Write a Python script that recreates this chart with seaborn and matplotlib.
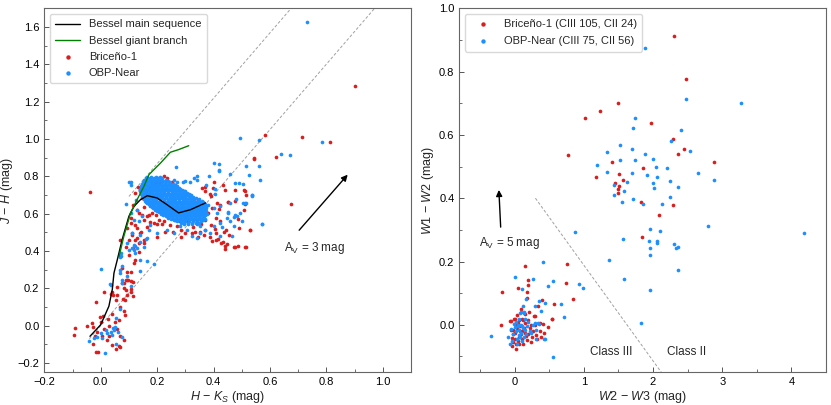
import matplotlib
matplotlib.use("Agg")
import matplotlib.pyplot as plt
from matplotlib.ticker import MultipleLocator
import seaborn as sns
import pandas as pd

RED = "#d81e1e"
BLUE = "#1e8fff"

# ---- left panel: 2MASS colour-colour ----
ms_hk = [-0.038, 0.0, 0.029, 0.041, 0.047, 0.059, 0.076, 0.100, 0.118, 0.141, 0.165, 0.200, 0.235, 0.276, 0.318, 0.371]
ms_jh = [-0.057, 0.005, 0.104, 0.193, 0.282, 0.354, 0.461, 0.586, 0.639, 0.675, 0.696, 0.684, 0.648, 0.604, 0.621, 0.657]
giant_hk = [0.065, 0.082, 0.106, 0.129, 0.153, 0.171, 0.212, 0.247, 0.276, 0.312]
giant_jh = [0.371, 0.479, 0.604, 0.675, 0.746, 0.809, 0.871, 0.929, 0.943, 0.964]

bri_jhk = [
    (0.900, 1.286), (0.715, 1.011), (0.582, 1.020), (0.812, 0.982), (0.620, 0.902), (0.544, 0.895),
    (0.674, 0.654), (0.529, 0.511), (0.514, 0.421), (0.485, 0.429), (0.442, 0.413), (-0.038, 0.714),
    (0.401, 0.772), (0.434, 0.753), (0.371, 0.745), (0.442, 0.728), (0.477, 0.729), (0.507, 0.724),
    (0.515, 0.701), (0.476, 0.670), (0.453, 0.665), (0.513, 0.652), (0.507, 0.622), (0.413, 0.656),
    (0.419, 0.624), (0.487, 0.570), (0.489, 0.522), (0.455, 0.486), (0.437, 0.499), (0.408, 0.459),
    (0.425, 0.442), (0.446, 0.438), (0.475, 0.420), (0.360, 0.737), (0.542, 0.897),
    (0.223, 0.799), (0.211, 0.764), (0.252, 0.772), (0.191, 0.764), (0.131, 0.745), (0.141, 0.724),
    (0.123, 0.710), (0.147, 0.683), (0.115, 0.647), (0.129, 0.620), (0.153, 0.638), (0.147, 0.594),
    (0.165, 0.585), (0.182, 0.603), (0.174, 0.553), (0.200, 0.545), (0.223, 0.558), (0.245, 0.540),
    (0.270, 0.535), (0.284, 0.513), (0.305, 0.558), (0.328, 0.531), (0.334, 0.504), (0.323, 0.495),
    (0.352, 0.504), (0.370, 0.513), (0.346, 0.474), (0.387, 0.477), (0.408, 0.495), (0.416, 0.463),
    (0.434, 0.450), (0.440, 0.424), (0.472, 0.420), (0.511, 0.420), (0.528, 0.513), (0.452, 0.665),
    (0.511, 0.722), (0.399, 0.740), (0.387, 0.706), (0.370, 0.719), (0.391, 0.692), (0.393, 0.629),
    (0.423, 0.647), (0.381, 0.603), (0.408, 0.576), (0.423, 0.558), (0.370, 0.567), (0.111, 0.486),
    (0.123, 0.459), (0.141, 0.495), (0.094, 0.522), (0.106, 0.549), (0.070, 0.459), (0.153, 0.442),
    (0.200, 0.474), (0.229, 0.504), (0.256, 0.499), (0.299, 0.495), (0.284, 0.477), (0.223, 0.603),
    (0.246, 0.638), (0.282, 0.620), (0.317, 0.638), (0.344, 0.674), (0.317, 0.701), (0.293, 0.719),
    (0.188, 0.665), (0.176, 0.692), (0.162, 0.719), (0.111, 0.495), (0.129, 0.522), (0.144, 0.504),
    (0.164, 0.531), (0.100, 0.459), (0.137, 0.441), (0.152, 0.459), (0.114, 0.415), (0.135, 0.397),
    (0.121, 0.352), (0.118, 0.334), (0.082, 0.227), (0.088, 0.245), (0.097, 0.245), (0.115, 0.236),
    (0.082, 0.200), (0.106, 0.195), (0.059, 0.164), (0.053, 0.137), (0.080, 0.141), (0.092, 0.164),
    (0.074, 0.308), (0.188, 0.549), (0.205, 0.567), (0.217, 0.545), (0.196, 0.594), (0.152, 0.567),
    (0.170, 0.594), (0.135, 0.603), (0.123, 0.540), (0.109, 0.576), (0.240, 0.580), (0.262, 0.565),
    (0.300, 0.585), (0.335, 0.570), (0.355, 0.545), (0.280, 0.560), (0.250, 0.610), (0.215, 0.625),
    (0.185, 0.640), (0.165, 0.660), (0.155, 0.700), (0.170, 0.745), (0.235, 0.790), (0.262, 0.755),
    (0.360, 0.600), (0.390, 0.540), (0.365, 0.485), (0.405, 0.520), (0.445, 0.510), (0.395, 0.455),
    (-0.092, -0.011), (-0.094, -0.052), (-0.049, -0.002), (-0.032, 0.013), (-0.029, -0.005),
    (-0.014, -0.032), (-0.018, 0.125), (0.012, 0.182), (0.035, 0.170), (0.045, 0.164), (-0.002, 0.048),
    (0.000, 0.021), (0.009, 0.052), (0.026, 0.034), (0.070, 0.099), (0.082, 0.079), (0.085, 0.058),
    (0.088, 0.191), (0.094, 0.245), (0.109, 0.241), (0.106, 0.182), (0.076, 0.227), (0.059, 0.209),
    (0.115, 0.159), (0.085, 0.138), (-0.029, -0.098), (-0.018, -0.139), (-0.008, -0.139),
    (0.023, -0.077), (0.041, -0.103), (0.053, -0.127), (0.068, -0.113), (0.059, -0.019),
    (0.070, -0.053), (0.082, -0.077), (0.029, -0.053), (0.012, -0.019), (0.006, -0.055),
    (0.041, 0.182), (0.094, 0.290), (0.108, 0.290), (0.041, 0.060), (0.050, 0.020), (0.030, 0.000),
    (0.065, 0.030), (0.065, -0.111), (-0.020, -0.057), (0.100, 0.380), (0.090, 0.420), (0.130, 0.470),
]

obp_jhk = [
    (0.732, 1.627), (0.495, 1.005), (0.560, 0.992), (0.786, 0.985), (0.640, 0.921), (0.670, 0.914),
    (0.401, 0.869), (0.421, 0.865), (0.561, 0.855), (0.526, 0.806), (0.419, 0.828), (0.460, 0.810),
    (0.566, 0.781), (0.477, 0.763), (0.489, 0.763), (0.505, 0.760), (0.536, 0.697), (0.515, 0.656),
    (0.506, 0.656), (0.570, 0.545), (0.405, 0.733), (0.452, 0.610), (0.473, 0.581), (0.502, 0.561),
    (0.431, 0.531), (0.465, 0.481), (0.423, 0.481), (0.446, 0.574), (0.404, 0.706), (0.481, 0.678),
    (0.268, 0.849), (0.514, 0.853), (0.102, 0.770), (0.109, 0.753), (0.090, 0.654), (0.270, 0.769),
    (0.291, 0.769), (0.317, 0.769), (0.343, 0.799), (0.343, 0.781), (0.384, 0.799), (0.375, 0.754),
    (0.537, 0.701), (0.475, 0.594), (0.300, 0.773), (0.259, 0.782), (0.329, 0.791), (0.108, 0.768),
    (0.106, 0.604), (0.118, 0.568), (0.112, 0.496), (0.141, 0.487), (0.165, 0.470), (0.129, 0.416),
    (0.118, 0.404), (0.153, 0.421), (0.141, 0.354), (0.165, 0.345), (0.190, 0.331), (0.118, 0.434),
    (0.094, 0.443), (0.071, 0.371), (0.076, 0.318), (0.094, 0.264), (0.106, 0.211), (0.035, 0.220),
    (0.000, 0.304), (0.073, 0.389), (0.353, 0.496), (0.371, 0.514), (0.388, 0.496), (0.400, 0.532),
    (0.424, 0.550), (0.459, 0.559), (0.471, 0.532), (0.482, 0.586), (0.494, 0.604), (0.453, 0.604),
    (0.412, 0.604), (0.400, 0.630), (0.424, 0.639), (0.382, 0.648), (0.459, 0.657), (0.512, 0.657),
    (0.571, 0.546), (0.535, 0.702), (0.124, 0.675), (0.129, 0.621), (0.147, 0.586), (0.135, 0.559),
    (0.171, 0.514), (0.200, 0.496), (0.176, 0.541), (0.235, 0.514), (0.259, 0.496), (0.324, 0.479),
    (0.341, 0.470), (0.306, 0.514), (0.282, 0.532), (0.353, 0.532), (0.418, 0.832),
    (-0.041, -0.080), (-0.024, -0.068), (-0.012, -0.059), (0.006, -0.068), (0.015, -0.148),
    (0.035, -0.032), (0.047, -0.023), (0.050, -0.005), (0.000, -0.041), (0.023, -0.041),
    (0.076, -0.062), (0.053, -0.098), (0.033, 0.221), (0.068, 0.281), (0.074, 0.227), (0.070, 0.089),
    (0.053, 0.043), (0.141, 0.293), (0.040, -0.050), (0.060, -0.035), (0.045, -0.015), (0.020, -0.025),
    (0.070, 0.299), (0.076, 0.245), (0.100, 0.406), (0.111, 0.415), (0.123, 0.424), (0.123, 0.388),
    (0.141, 0.450), (0.161, 0.463), (0.067, 0.367),
]

# dense core of OBP-Near: rows of (J-H, [H-Ks ...])
obp_core = [
    (0.795, [0.165, 0.180, 0.195, 0.210]),
    (0.789, [0.160, 0.173, 0.188, 0.203, 0.218]),
    (0.782, [0.155, 0.170, 0.185, 0.200, 0.215, 0.230]),
    (0.775, [0.152, 0.166, 0.180, 0.194, 0.208, 0.222, 0.238]),
    (0.768, [0.150, 0.163, 0.177, 0.190, 0.204, 0.218, 0.232, 0.246]),
    (0.761, [0.147, 0.160, 0.174, 0.187, 0.201, 0.214, 0.228, 0.242, 0.256]),
    (0.754, [0.145, 0.157, 0.170, 0.184, 0.197, 0.211, 0.225, 0.238, 0.252, 0.265]),
    (0.747, [0.143, 0.150, 0.163, 0.177, 0.190, 0.204, 0.218, 0.231, 0.245, 0.258, 0.270]),
    (0.740, [0.142, 0.155, 0.168, 0.181, 0.195, 0.208, 0.221, 0.235, 0.248, 0.262, 0.276]),
    (0.733, [0.141, 0.148, 0.161, 0.174, 0.188, 0.201, 0.214, 0.228, 0.241, 0.255, 0.268, 0.281]),
    (0.726, [0.140, 0.153, 0.166, 0.180, 0.193, 0.206, 0.219, 0.233, 0.246, 0.260, 0.273, 0.287]),
    (0.719, [0.141, 0.147, 0.160, 0.173, 0.186, 0.200, 0.213, 0.226, 0.240, 0.253, 0.267, 0.280, 0.294, 0.300]),
    (0.712, [0.142, 0.156, 0.170, 0.183, 0.197, 0.210, 0.224, 0.237, 0.251, 0.264, 0.278, 0.291, 0.305]),
    (0.705, [0.143, 0.150, 0.164, 0.177, 0.191, 0.204, 0.218, 0.231, 0.245, 0.258, 0.272, 0.285, 0.299, 0.312]),
    (0.698, [0.145, 0.158, 0.172, 0.185, 0.199, 0.212, 0.226, 0.239, 0.253, 0.266, 0.280, 0.293, 0.307, 0.320]),
    (0.691, [0.147, 0.152, 0.165, 0.179, 0.192, 0.206, 0.219, 0.233, 0.246, 0.260, 0.273, 0.287, 0.300, 0.314, 0.328]),
    (0.684, [0.150, 0.163, 0.177, 0.190, 0.204, 0.217, 0.231, 0.244, 0.258, 0.271, 0.285, 0.298, 0.312, 0.325, 0.339]),
    (0.677, [0.153, 0.157, 0.170, 0.184, 0.197, 0.211, 0.224, 0.238, 0.251, 0.265, 0.278, 0.292, 0.305, 0.319, 0.332, 0.348]),
    (0.670, [0.156, 0.169, 0.183, 0.196, 0.210, 0.223, 0.237, 0.250, 0.264, 0.277, 0.291, 0.304, 0.318, 0.331, 0.345, 0.358]),
    (0.663, [0.160, 0.163, 0.176, 0.190, 0.203, 0.217, 0.230, 0.244, 0.257, 0.271, 0.284, 0.298, 0.311, 0.325, 0.338, 0.352, 0.362]),
    (0.656, [0.165, 0.178, 0.192, 0.205, 0.219, 0.232, 0.246, 0.259, 0.273, 0.286, 0.300, 0.313, 0.327, 0.340, 0.354, 0.367]),
    (0.649, [0.170, 0.172, 0.185, 0.199, 0.212, 0.226, 0.239, 0.253, 0.266, 0.280, 0.293, 0.307, 0.320, 0.334, 0.347, 0.361, 0.371]),
    (0.642, [0.175, 0.188, 0.202, 0.215, 0.229, 0.242, 0.256, 0.269, 0.283, 0.296, 0.310, 0.323, 0.337, 0.350, 0.364, 0.375]),
    (0.635, [0.181, 0.194, 0.208, 0.221, 0.235, 0.248, 0.262, 0.275, 0.289, 0.302, 0.316, 0.329, 0.343, 0.356, 0.369]),
    (0.628, [0.187, 0.200, 0.214, 0.227, 0.241, 0.254, 0.268, 0.281, 0.295, 0.308, 0.322, 0.335, 0.349, 0.362, 0.374]),
    (0.621, [0.193, 0.207, 0.220, 0.234, 0.247, 0.261, 0.274, 0.288, 0.301, 0.315, 0.328, 0.342, 0.355, 0.368]),
    (0.614, [0.200, 0.214, 0.227, 0.241, 0.254, 0.268, 0.281, 0.295, 0.308, 0.322, 0.335, 0.349, 0.362, 0.375]),
    (0.607, [0.207, 0.221, 0.234, 0.248, 0.261, 0.275, 0.288, 0.302, 0.315, 0.329, 0.342, 0.356, 0.369]),
    (0.600, [0.214, 0.228, 0.241, 0.255, 0.268, 0.282, 0.295, 0.309, 0.322, 0.336, 0.349, 0.363, 0.376]),
    (0.593, [0.222, 0.236, 0.249, 0.263, 0.276, 0.290, 0.303, 0.317, 0.330, 0.344, 0.357, 0.370]),
    (0.586, [0.230, 0.243, 0.257, 0.270, 0.284, 0.297, 0.311, 0.324, 0.338, 0.351, 0.365]),
    (0.579, [0.240, 0.253, 0.267, 0.280, 0.294, 0.307, 0.321, 0.334, 0.348, 0.361]),
    (0.572, [0.250, 0.263, 0.277, 0.290, 0.304, 0.317, 0.331, 0.344, 0.358, 0.370]),
    (0.565, [0.260, 0.273, 0.287, 0.300, 0.314, 0.328, 0.342, 0.356, 0.364]),
    (0.558, [0.270, 0.284, 0.298, 0.312, 0.326, 0.340, 0.354]),
    (0.551, [0.283, 0.297, 0.311, 0.325, 0.339, 0.350]),
    (0.544, [0.295, 0.310, 0.325, 0.340]),
]

# reddening vectors drawn as dashed lines (H-Ks, J-H)
redd_upper = ([0.100, 0.675], [0.692, 1.700])
redd_lower = ([-0.040, 0.971], [-0.070, 1.700])

# ---- right panel: WISE colour-colour ----
bri_wise = [
    (2.308, 0.913), (2.476, 0.778), (1.495, 0.701), (1.231, 0.677), (1.019, 0.655), (1.971, 0.639),
    (0.769, 0.536), (2.284, 0.586), (2.452, 0.554), (2.365, 0.541), (2.875, 0.515), (1.404, 0.513),
    (1.851, 0.497), (1.178, 0.468), (1.505, 0.478), (1.563, 0.458), (1.457, 0.448), (1.505, 0.440),
    (1.495, 0.429), (1.500, 0.416), (1.832, 0.387), (2.293, 0.380), (2.082, 0.346), (1.837, 0.276),
    (0.755, 0.191), (0.144, 0.187), (-0.183, 0.103), (0.192, 0.143), (0.192, 0.125), (0.048, 0.117),
    (0.183, 0.103), (0.173, 0.084), (0.841, 0.082), (0.745, 0.133), (0.572, 0.065), (0.543, 0.019),
    (0.399, 0.080), (-0.202, -0.002), (-0.058, 0.013), (0.000, 0.019), (0.144, 0.034), (0.288, 0.029),
    (0.365, 0.007), (0.481, -0.008), (0.418, -0.026), (0.240, -0.053), (0.024, -0.076), (-0.034, -0.068),
    (-0.070, 0.013), (-0.010, 0.018), (0.048, 0.007), (0.120, 0.016), (0.190, 0.014), (0.278, 0.029),
    (0.410, 0.003), (0.538, 0.019), (-0.048, -0.016), (0.000, -0.026), (-0.038, -0.042),
    (0.024, -0.061), (-0.024, -0.053), (0.072, -0.021), (0.144, -0.026), (0.216, -0.011),
    (0.250, -0.037), (0.313, -0.032), (0.360, -0.021), (0.183, -0.047), (0.385, -0.037),
    (0.030, -0.010), (0.060, -0.040), (0.090, -0.030), (0.110, -0.045), (0.080, -0.005),
    (-0.020, -0.030), (0.050, -0.050), (0.130, -0.010), (0.170, -0.035), (0.100, -0.020),
    (0.020, 0.000), (0.060, 0.015), (-0.030, -0.015), (0.150, 0.005), (0.260, -0.020), (0.300, 0.000),
    (0.330, -0.045), (0.200, -0.030), (0.070, -0.060), (0.110, 0.020), (0.230, 0.000), (0.120, -0.060),
    (0.000, -0.045), (0.040, 0.030), (0.210, 0.040), (0.090, 0.050), (0.340, 0.060),
]

obp_wise = [
    (3.269, 0.702), (2.481, 0.712), (1.745, 0.655), (1.707, 0.622), (2.409, 0.614), (2.260, 0.580),
    (1.529, 0.567), (1.332, 0.545), (1.702, 0.554), (2.529, 0.548), (1.880, 0.539), (1.995, 0.523),
    (1.529, 0.520), (1.740, 0.521), (1.183, 0.506), (2.043, 0.500), (1.337, 0.482), (1.692, 0.480),
    (2.654, 0.479), (1.909, 0.474), (2.202, 0.494), (2.058, 0.468), (1.442, 0.442), (1.625, 0.451),
    (2.005, 0.449), (2.240, 0.454), (2.356, 0.437), (2.885, 0.458), (2.019, 0.432), (1.577, 0.422),
    (1.442, 0.411), (1.548, 0.387), (1.716, 0.397), (1.861, 0.381), (2.125, 0.381), (2.250, 0.405),
    (0.875, 0.293), (1.952, 0.302), (2.096, 0.297), (2.788, 0.311), (4.183, 0.291), (1.562, 0.271),
    (1.947, 0.266), (2.058, 0.266), (2.058, 0.258), (2.308, 0.255), (2.356, 0.245), (2.332, 0.244),
    (1.952, 0.242), (1.957, 0.222), (1.365, 0.205), (2.365, 0.174), (1.577, 0.144), (1.952, 0.111),
    (1.827, 0.005), (1.890, 0.874),
    (0.409, 0.200), (0.010, 0.151), (0.264, 0.144), (0.553, 0.137), (0.481, 0.124), (0.923, 0.129),
    (0.986, 0.115), (0.106, 0.113), (0.168, 0.082), (0.346, 0.074), (0.433, 0.068), (0.673, 0.065),
    (0.298, 0.058), (0.375, 0.045), (0.712, 0.026), (0.553, -0.103), (-0.337, -0.034), (-0.096, -0.040),
    (-0.072, -0.060), (0.423, -0.044), (0.351, 0.003), (0.072, 0.037), (0.135, 0.042),
    (-0.010, 0.003), (0.000, -0.007), (0.048, -0.005), (0.087, 0.000), (0.120, -0.011), (0.154, -0.016),
    (0.216, -0.018), (0.288, 0.007), (0.337, 0.005), (0.313, -0.016), (0.240, -0.026), (0.096, -0.026),
    (0.024, -0.021), (0.062, -0.032), (0.134, -0.037), (0.433, -0.045), (0.313, -0.045), (-0.058, -0.013),
    (0.096, 0.042), (0.130, 0.037), (0.040, -0.045), (0.070, -0.015), (0.110, -0.005), (0.180, -0.005),
    (0.020, 0.010), (0.060, 0.020), (0.150, 0.020), (-0.030, -0.030), (0.100, -0.050), (0.200, 0.010),
    (0.260, 0.000), (0.050, 0.000), (0.080, -0.040), (-0.040, -0.050), (0.170, -0.030), (0.030, -0.060),
    (0.120, 0.060),
]

class_line = ([0.30, 2.12], [0.40, -0.15])

# build tables
bri_l = pd.DataFrame(bri_jhk, columns=["hk", "jh"])
obp_l = pd.DataFrame(obp_jhk + [(x, y) for y, xs in obp_core for x in xs], columns=["hk", "jh"])
bri_r = pd.DataFrame(bri_wise, columns=["w23", "w12"])
obp_r = pd.DataFrame(obp_wise, columns=["w23", "w12"])

sns.set_style("ticks")
plt.rcParams["font.family"] = ["Liberation Sans", "DejaVu Sans"]
plt.rcParams["mathtext.fontset"] = "custom"
plt.rcParams["mathtext.rm"] = "Liberation Sans"
plt.rcParams["mathtext.it"] = "Liberation Sans:italic"
plt.rcParams["font.size"] = 8

fig = plt.figure(figsize=(8.31, 4.05), dpi=100)
ax1 = fig.add_axes([0.0533, 0.0807, 0.4413, 0.8988])
ax2 = fig.add_axes([0.5527, 0.0807, 0.4413, 0.8988])

dash = dict(color="#a0a0a0", lw=0.7, ls=(0, (3, 2)), zorder=1)
ss = 7

# left
ax1.plot(*redd_upper, **dash)
ax1.plot(*redd_lower, **dash)
sns.lineplot(x=ms_hk, y=ms_jh, sort=False, estimator=None, color="k", lw=1,
             label="Bessel main sequence", ax=ax1, zorder=4)
sns.lineplot(x=giant_hk, y=giant_jh, sort=False, estimator=None, color="green", lw=1,
             label="Bessel giant branch", ax=ax1, zorder=4)
sns.scatterplot(data=bri_l, x="hk", y="jh", color=RED, s=ss, linewidth=0,
                label="Briceño-1", ax=ax1, zorder=2)
sns.scatterplot(data=obp_l, x="hk", y="jh", color=BLUE, s=ss, linewidth=0,
                label="OBP-Near", ax=ax1, zorder=3)
ax1.annotate("", xy=(0.882, 0.82), xytext=(0.697, 0.50),
             arrowprops=dict(arrowstyle="-|>", color="k", lw=1, mutation_scale=9))
ax1.text(0.648, 0.417, r"A$_{\rm V}$ = 3 mag", ha="left", va="center", fontsize=8.5)
ax1.set_xlim(-0.2, 1.1)
ax1.set_ylim(-0.25, 1.7)
ax1.xaxis.set_major_locator(MultipleLocator(0.2))
ax1.xaxis.set_minor_locator(MultipleLocator(0.1))
ax1.yaxis.set_major_locator(MultipleLocator(0.2))
ax1.yaxis.set_minor_locator(MultipleLocator(0.1))
ax1.set_xlabel(r"$H$ − $K_S$ (mag)", labelpad=1, fontsize=9)
ax1.set_ylabel(r"$J$ − $H$ (mag)", labelpad=2, fontsize=9)
ax1.legend(loc="upper left", fontsize=8, frameon=True, edgecolor="#d0d0d0",
           handlelength=2.2, borderpad=0.5, labelspacing=0.55, markerscale=1.2)

# right
ax2.plot(*class_line, **dash)
sns.scatterplot(data=bri_r, x="w23", y="w12", color=RED, s=ss, linewidth=0,
                label="Briceño-1 (CIII 105, CII 24)", ax=ax2, zorder=2)
sns.scatterplot(data=obp_r, x="w23", y="w12", color=BLUE, s=ss, linewidth=0,
                label="OBP-Near (CIII 75, CII 56)", ax=ax2, zorder=3)
ax2.annotate("", xy=(-0.23, 0.435), xytext=(-0.20, 0.30),
             arrowprops=dict(arrowstyle="-|>", color="k", lw=1, mutation_scale=9))
ax2.text(-0.51, 0.26, r"A$_{\rm V}$ = 5 mag", ha="left", va="center", fontsize=8.5)
ax2.text(1.39, -0.087, "Class III", ha="center", va="center", fontsize=8.5)
ax2.text(2.48, -0.087, "Class II", ha="center", va="center", fontsize=8.5)
ax2.set_xlim(-0.8, 4.5)
ax2.set_ylim(-0.15, 1.0)
ax2.xaxis.set_major_locator(MultipleLocator(1))
ax2.xaxis.set_minor_locator(MultipleLocator(0.5))
ax2.yaxis.set_major_locator(MultipleLocator(0.2))
ax2.yaxis.set_minor_locator(MultipleLocator(0.1))
ax2.set_xlabel(r"$W2$ − $W3$ (mag)", labelpad=1, fontsize=9)
ax2.set_ylabel(r"$W1$ − $W2$ (mag)", labelpad=2, fontsize=9)
ax2.legend(loc="upper left", fontsize=8, frameon=True, edgecolor="#d0d0d0",
           handlelength=2.2, borderpad=0.5, labelspacing=0.6, markerscale=1.2)

for ax in (ax1, ax2):
    for sp in ax.spines.values():
        sp.set_color("#666666")
        sp.set_linewidth(0.8)
    ax.tick_params(which="both", direction="in", colors="#555555", labelcolor="k", labelsize=8)
    ax.tick_params(which="major", length=3.5, width=0.7)
    ax.tick_params(which="minor", length=2, width=0.6)

fig.savefig("out.png", dpi=100)
